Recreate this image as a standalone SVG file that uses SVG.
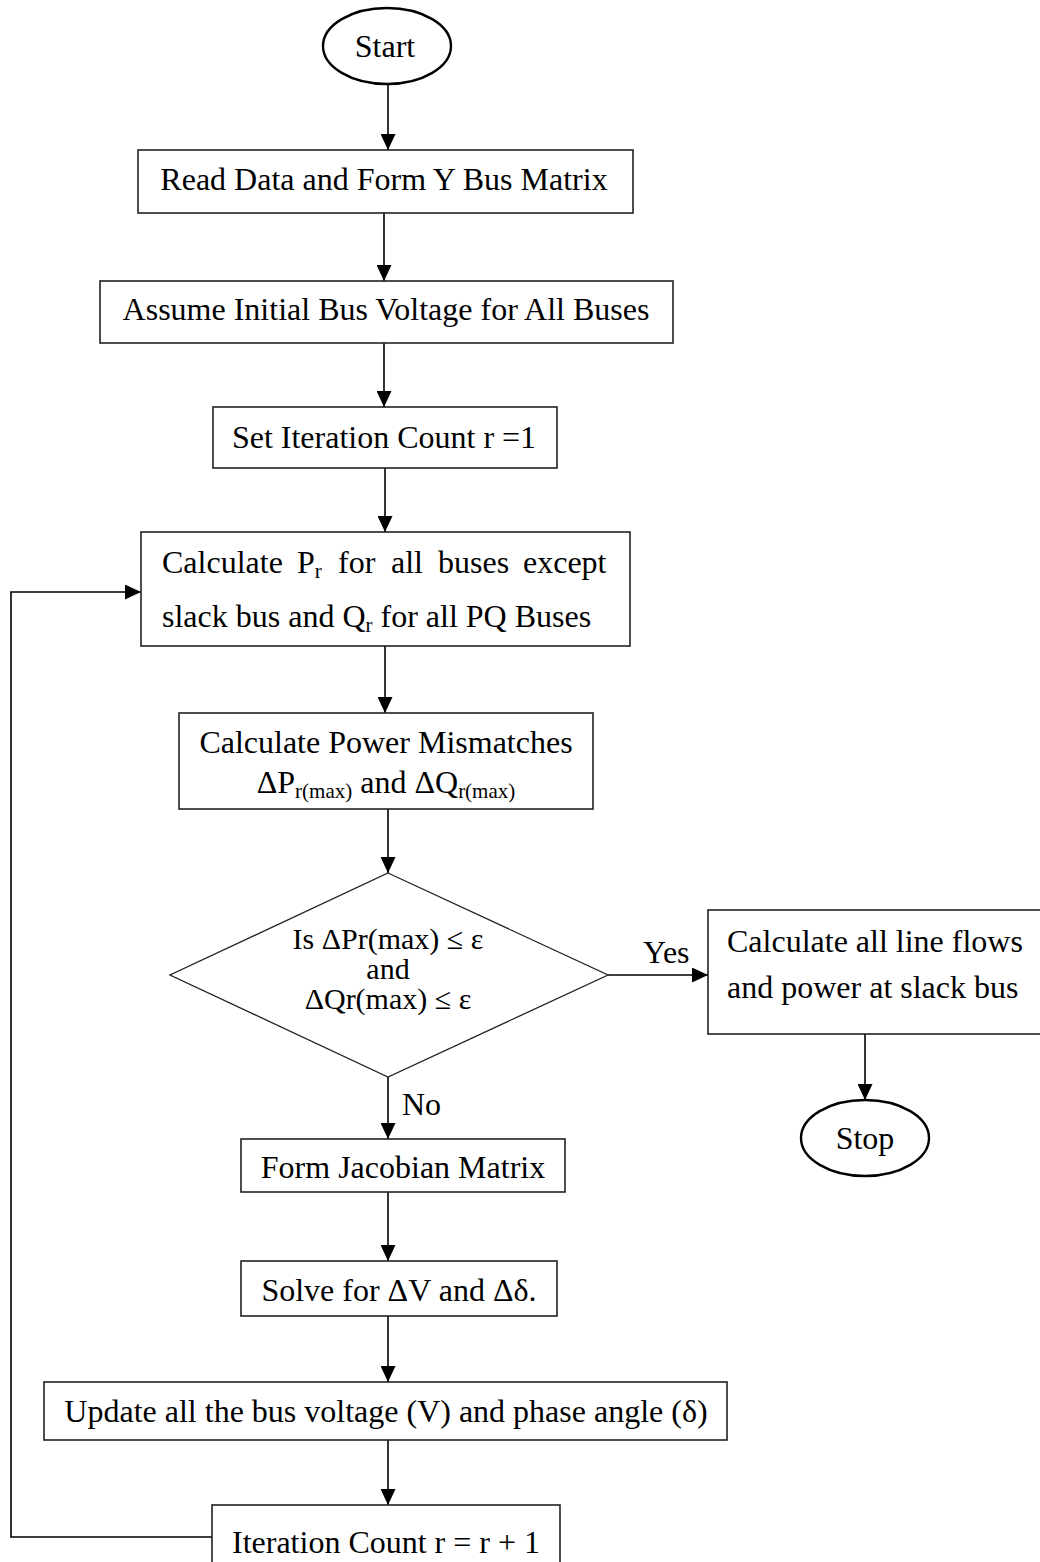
<svg xmlns="http://www.w3.org/2000/svg" width="1040" height="1562" viewBox="0 0 1040 1562">
<style>
text{font-family:"Liberation Serif","Times New Roman",serif;font-size:32px;fill:#000}
.c{text-anchor:middle}
.sub{font-size:21px}
.dt{font-size:30px}
.box{fill:#fff;stroke:#222;stroke-width:1.6}
.term{fill:#fff;stroke:#000;stroke-width:2.4}
.ln{fill:none;stroke:#000;stroke-width:1.6}
</style>
<defs>
<marker id="ah" markerUnits="userSpaceOnUse" markerWidth="16" markerHeight="15" refX="16" refY="7.5" orient="auto">
<path d="M0,0 L16,7.5 L0,15 z" fill="#000"/>
</marker>
</defs>
<rect width="1040" height="1562" fill="#fff"/>
<g id="connectors">
<line class="ln" x1="388" y1="84" x2="388" y2="150" marker-end="url(#ah)"/>
<line class="ln" x1="384" y1="213" x2="384" y2="281" marker-end="url(#ah)"/>
<line class="ln" x1="384" y1="343" x2="384" y2="407" marker-end="url(#ah)"/>
<line class="ln" x1="385" y1="468" x2="385" y2="532" marker-end="url(#ah)"/>
<line class="ln" x1="385" y1="646" x2="385" y2="713" marker-end="url(#ah)"/>
<line class="ln" x1="388" y1="809" x2="388" y2="873" marker-end="url(#ah)"/>
<line class="ln" x1="608" y1="975" x2="708" y2="975" marker-end="url(#ah)"/>
<line class="ln" x1="865" y1="1034" x2="865" y2="1100" marker-end="url(#ah)"/>
<line class="ln" x1="388" y1="1077" x2="388" y2="1139" marker-end="url(#ah)"/>
<line class="ln" x1="388" y1="1192" x2="388" y2="1261" marker-end="url(#ah)"/>
<line class="ln" x1="388" y1="1316" x2="388" y2="1382" marker-end="url(#ah)"/>
<line class="ln" x1="388" y1="1440" x2="388" y2="1505" marker-end="url(#ah)"/>
<polyline class="ln" points="212,1537 11,1537 11,592 141,592" marker-end="url(#ah)"/>
<text x="643" y="963">Yes</text>
<text x="402" y="1115">No</text>
</g>
<g id="start">
<ellipse class="term" cx="387" cy="46" rx="64" ry="38"/>
<text class="c" x="385" y="57">Start</text>
</g>
<g id="read-data">
<rect class="box" x="138" y="150" width="495" height="63"/>
<text class="c" x="384" y="190">Read Data and Form Y Bus Matrix</text>
</g>
<g id="assume">
<rect class="box" x="100" y="281" width="573" height="62"/>
<text class="c" x="386" y="320">Assume Initial Bus Voltage for All Buses</text>
</g>
<g id="set-count">
<rect class="box" x="213" y="407" width="344" height="61"/>
<text class="c" x="384" y="448">Set Iteration Count r =1</text>
</g>
<g id="calc-pq">
<rect class="box" x="141" y="532" width="489" height="114"/>
<text y="573"><tspan x="162">Calculate</tspan><tspan x="297">P</tspan><tspan class="sub" dy="5">r</tspan><tspan x="338" dy="-5">for</tspan><tspan x="391">all</tspan><tspan x="438">buses</tspan><tspan x="523">except</tspan></text>
<text x="162" y="627">slack bus and Q<tspan class="sub" dy="5">r</tspan><tspan dy="-5"> for all PQ Buses</tspan></text>
</g>
<g id="mismatch">
<rect class="box" x="179" y="713" width="414" height="96"/>
<text class="c" x="386" y="753">Calculate Power Mismatches</text>
<text class="c" x="386" y="793">ΔP<tspan class="sub" dy="5">r(max)</tspan><tspan dy="-5"> and ΔQ</tspan><tspan class="sub" dy="5">r(max)</tspan></text>
</g>
<g id="decision">
<polygon class="box" points="388,873 608,975 388,1077 170,975" style="stroke-width:1.3"/>
<text class="c dt" x="388" y="949">Is ΔPr(max) ≤ ε</text>
<text class="c dt" x="388" y="979">and</text>
<text class="c dt" x="388" y="1009">ΔQr(max) ≤ ε</text>
</g>
<g id="line-flows">
<rect class="box" x="708" y="910" width="345" height="124"/>
<text x="727" y="952">Calculate all line flows</text>
<text x="727" y="998">and power at slack bus</text>
</g>
<g id="stop">
<ellipse class="term" cx="865" cy="1138" rx="64" ry="38"/>
<text class="c" x="865" y="1149">Stop</text>
</g>
<g id="jacobian">
<rect class="box" x="241" y="1139" width="324" height="53"/>
<text class="c" x="403" y="1178">Form Jacobian Matrix</text>
</g>
<g id="solve">
<rect class="box" x="241" y="1261" width="316" height="55"/>
<text class="c" x="399" y="1301">Solve for ΔV and Δδ.</text>
</g>
<g id="update">
<rect class="box" x="44" y="1382" width="683" height="58"/>
<text class="c" x="386" y="1422">Update all the bus voltage (V) and phase angle (δ)</text>
</g>
<g id="iteration">
<rect class="box" x="212" y="1505" width="348" height="80"/>
<text class="c" x="386" y="1553">Iteration Count r = r + 1</text>
</g>
</svg>
